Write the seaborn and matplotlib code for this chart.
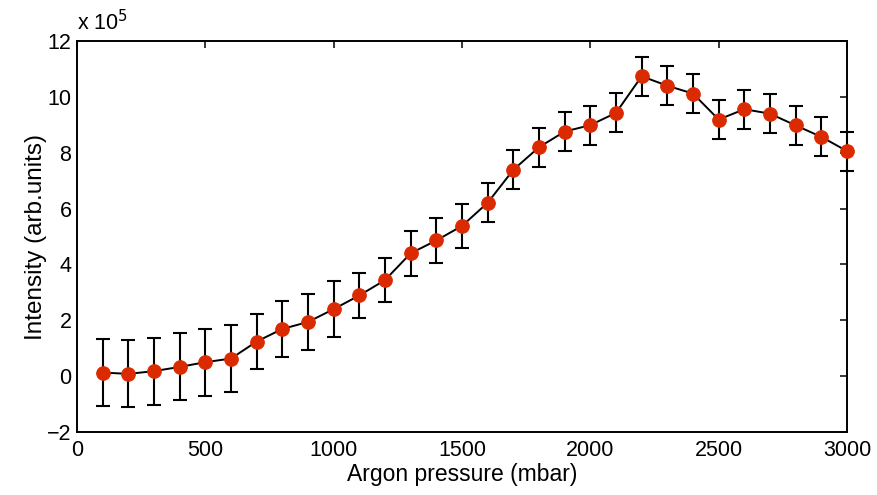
import numpy as np
import pandas as pd
import matplotlib
matplotlib.use("Agg")
import matplotlib.pyplot as plt
import seaborn as sns

# Argon pressure (mbar) and measured intensity (in units of 1e5, arb. units)
pressure = [100, 200, 300, 400, 500, 600, 700, 800, 900, 1000,
            1100, 1200, 1300, 1400, 1500, 1600, 1700, 1800, 1900, 2000,
            2100, 2200, 2300, 2400, 2500, 2600, 2700, 2800, 2900, 3000]
intensity = [0.13, 0.08, 0.18, 0.33, 0.50, 0.63, 1.24, 1.69, 1.94, 2.40,
             2.89, 3.44, 4.40, 4.86, 5.38, 6.21, 7.39, 8.20, 8.76, 8.99,
             9.43, 10.74, 10.40, 10.12, 9.19, 9.56, 9.40, 8.98, 8.57, 8.06]
error = [1.2, 1.2, 1.2, 1.2, 1.2, 1.2, 1.0, 1.0, 1.0, 1.0,
         0.8, 0.8, 0.8, 0.8, 0.8, 0.7, 0.7, 0.7, 0.7, 0.7,
         0.7, 0.7, 0.7, 0.7, 0.7, 0.7, 0.7, 0.7, 0.7, 0.7]
x_ticks = [0, 500, 1000, 1500, 2000, 2500, 3000]
y_ticks = [-2, 0, 2, 4, 6, 8, 10, 12]

df = pd.DataFrame({"pressure": pressure, "intensity": intensity, "error": error})

sns.set_theme(style="white")
plt.rcParams["font.family"] = ["Liberation Sans", "DejaVu Sans"]
plt.rcParams["xtick.direction"] = "in"
plt.rcParams["ytick.direction"] = "in"

fig = plt.figure(figsize=(8.77, 4.95), dpi=100)
ax = fig.add_axes([0.0878, 0.1273, 0.878, 0.7897])

ax.errorbar(df["pressure"], df["intensity"], yerr=df["error"], fmt="none",
            ecolor="black", elinewidth=1.5, capsize=5.3, capthick=1.5,
            zorder=2, clip_on=False)
sns.lineplot(data=df, x="pressure", y="intensity", ax=ax, color="black",
             linewidth=1.4, marker="o", markersize=9.8,
             markerfacecolor="#DC2A00", markeredgecolor="#DC2A00", zorder=3,
             clip_on=False)

ax.set_xlim(0, 3000)
ax.set_ylim(-2, 12)
ax.set_xticks(x_ticks)
ax.set_yticks(y_ticks)
ax.set_yticklabels(["\u22122" if v < 0 else str(v) for v in y_ticks])
ax.tick_params(axis="both", which="both", labelsize=15.5, length=5, width=1.1,
               color="black", top=True, right=True, labelcolor="black")
ax.tick_params(axis="x", pad=6)
ax.tick_params(axis="y", pad=4)
for sp in ax.spines.values():
    sp.set_color("black")
    sp.set_linewidth(1.4)

ax.set_xlabel("Argon pressure (mbar)", fontsize=16.5, labelpad=1, color="black")
ax.set_ylabel("Intensity (arb.units)", fontsize=17.5, labelpad=0, color="black")
ax.text(0.0, 1.015, "x 10$^{5}$", transform=ax.transAxes, fontsize=15.5,
        ha="left", va="bottom", color="black")

fig.savefig("out.png", dpi=100, facecolor="white")
